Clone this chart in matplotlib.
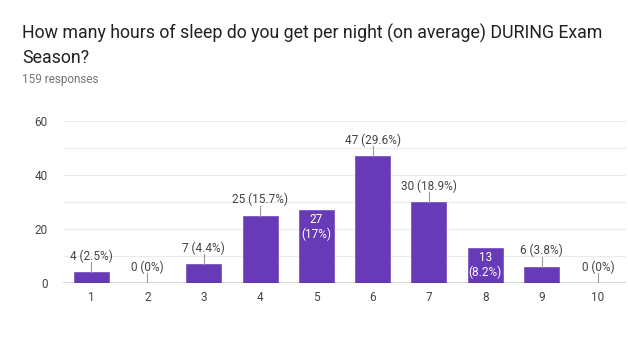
import matplotlib
matplotlib.use("Agg")
import matplotlib.pyplot as plt

hours = ["1", "2", "3", "4", "5", "6", "7", "8", "9", "10"]
counts = [4, 0, 7, 25, 27, 47, 30, 13, 6, 0]
percents = ["2.5%", "0%", "4.4%", "15.7%", "17%", "29.6%", "18.9%", "8.2%", "3.8%", "0%"]
inside = [False, False, False, False, True, False, False, True, False, False]
y_ticks = [0, 20, 40, 60]
y_grid = [10, 20, 30, 40, 50, 60]

title_lines = ["How many hours of sleep do you get per night (on average) DURING Exam",
               "Season?"]
subtitle = "159 responses"

plt.rcParams["font.family"] = ["Roboto", "DejaVu Sans"]
W, H = 628, 350
fig = plt.figure(figsize=(W / 100, H / 100), dpi=100)
ax = fig.add_axes([63 / W, 1 - 283 / H, 563 / W, 162 / H])

bar_color = "#673ab7"
x = list(range(1, len(hours) + 1))
ax.bar(x, counts, width=0.62, color=bar_color, edgecolor="#7e57c2", linewidth=0.6, zorder=3)

ax.set_xlim(0.5, 10.5)
ax.set_ylim(0, 60)
for g in y_grid:
    ax.axhline(g, color="#ebebeb", lw=0.8, zorder=1)
ax.axhline(0, color="#333333", lw=1.0, zorder=4)
for s in ax.spines.values():
    s.set_visible(False)
ax.set_yticks(y_ticks)
ax.set_xticks(x)
ax.set_xticklabels(hours)
ax.tick_params(axis="both", length=0, labelsize=8.5, labelcolor="#444444")
ax.tick_params(axis="y", pad=11)
ax.tick_params(axis="x", pad=6)

for xi, c, p, ins in zip(x, counts, percents, inside):
    if ins:
        ax.text(xi, c - 1.2, f"{c}\n({p})", ha="center", va="top", color="white",
                fontsize=8.5, linespacing=1.15, zorder=5)
    else:
        ax.plot([xi, xi], [c, c + 3.7], color="#999999", lw=0.8, zorder=4)
        ax.text(xi, c + 3.5, f"{c} ({p})", ha="center", va="bottom", color="#444444",
                fontsize=8.5, zorder=5)

for i, line in enumerate(title_lines):
    fig.text(22 / W, 1 - (39 + 24 * i) / H, line, ha="left", va="baseline",
             fontsize=12.8, color="#212121")
fig.text(22 / W, 1 - 79 / H, subtitle, ha="left", va="center", fontsize=8.5,
         color="#757575")

fig.savefig("out.png", dpi=100, facecolor="white")
